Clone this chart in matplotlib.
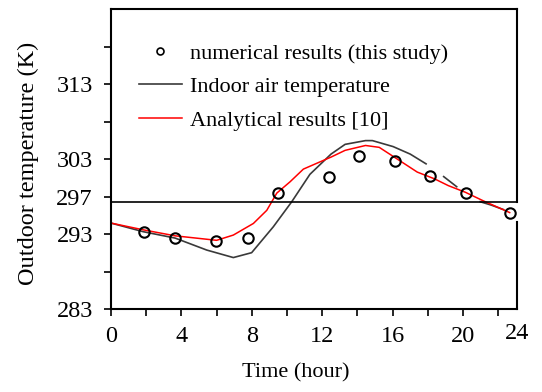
import numpy as np
import matplotlib
matplotlib.use('Agg')
import matplotlib.pyplot as plt
from matplotlib.lines import Line2D

plt.rcParams['font.family'] = ['Liberation Serif', 'DejaVu Serif']
plt.rcParams['font.size'] = 16

# numerical results (this study)
num_hours = [1.88, 3.63, 5.94, 7.76, 9.48, 12.4, 14.1, 16.15, 18.15, 20.16, 22.65]
num_temps = [293.3, 292.5, 292.1, 292.5, 298.5, 300.6, 303.4, 302.8, 300.8, 298.5, 295.9]

# indoor air temperature (NaN = gaps in the drawn curve)
indoor_hours = [0.0, 1.83, 3.64, 5.44, 6.95, 7.99, 9.22, 10.27, 11.3, 12.5, 13.3, 14.46,
                14.85, 16.03, 17.0, 17.9, 18.4, 18.9, 19.64, 20.3, 20.97, 21.6, 22.3]
indoor_temps = [294.5, 293.35, 292.5, 290.9, 289.9, 290.55, 294.0, 297.35, 301.0, 303.7,
                305.0, 305.5, 305.5, 304.7, 303.7, 302.4, np.nan, 300.7, 299.35, np.nan,
                297.35, 296.9, 296.3]

# analytical results [10]
anal_hours = [0.0, 1.83, 3.64, 6.0, 6.95, 8.09, 8.85, 9.42, 10.17, 10.93, 12.5, 13.3,
              14.46, 15.24, 16.42, 17.4, 18.38, 19.16, 20.14, 21.12, 22.65]
anal_temps = [294.5, 293.6, 292.8, 292.2, 292.9, 294.45, 296.2, 298.5, 300.0, 301.7, 303.3,
              304.2, 304.85, 304.6, 302.8, 301.3, 300.4, 299.5, 298.6, 297.5, 295.9]

ref_temp = 297.3

x_ticks = [0, 2, 4, 6, 8, 10, 12, 14, 16, 18, 20, 22]
x_labels = ['0', '', '4', '', '8', '', '12', '', '16', '', '20', '']
y_ticks = [283, 288, 293, 298, 303, 308, 313, 318]
y_labels = ['283', '', '293', '297', '303', '', '313', '']

fig = plt.figure(figsize=(5.42, 3.92), dpi=100)
ax = fig.add_axes([0.2048, 0.211, 0.7492, 0.765])

ax.plot(indoor_hours, indoor_temps, color='#3a3a3a', lw=1.2)
ax.plot(anal_hours, anal_temps, color='red', lw=1.1)
ax.plot(num_hours, num_temps, 'o', mfc='none', mec='black', ms=7.5, mew=1.5)
ax.axhline(ref_temp, color='black', lw=1.2)

ax.set_xlim(0, 23.07)
ax.set_ylim(283, 323)
ax.set_xticks(x_ticks)
ax.set_xticklabels(x_labels)
ax.set_yticks(y_ticks)
ax.set_yticklabels(y_labels)
ax.tick_params(axis='both', direction='out', length=5, width=1.2, labelsize=17.5)
ax.tick_params(axis='y', pad=8)
ax.tick_params(axis='x', pad=7)
ax.text(1.0, -0.081, '24', transform=ax.transAxes, ha='center', va='center', fontsize=17.5)

for s in ax.spines.values():
    s.set_linewidth(1.5)
# right frame has a small break around the last marker
ax.spines['right'].set_visible(False)
ax.axvline(23.07, ymin=0.0, ymax=0.29, color='black', lw=1.5, clip_on=False)
ax.axvline(23.07, ymin=0.357, ymax=1.0, color='black', lw=1.5, clip_on=False)

ax.set_xlabel('Time (hour)')
ax.xaxis.set_label_coords(0.456, -0.18)
ax.set_ylabel('Outdoor temperature (K)', fontsize=17.5)
ax.yaxis.set_label_coords(-0.178, 0.488)

handles = [
    Line2D([], [], ls='none', marker='o', mfc='none', mec='black', ms=5, mew=1.2),
    Line2D([], [], color='#3a3a3a', lw=1.2),
    Line2D([], [], color='red', lw=1.1),
]
labels = ['numerical results (this study)', 'Indoor air temperature', 'Analytical results [10]']
ax.legend(handles, labels, loc='upper left', bbox_to_anchor=(0.048, 0.917), frameon=False,
          handlelength=1.9, handletextpad=0.4, labelspacing=0.58, borderaxespad=0)

fig.savefig('out.png', dpi=100)
